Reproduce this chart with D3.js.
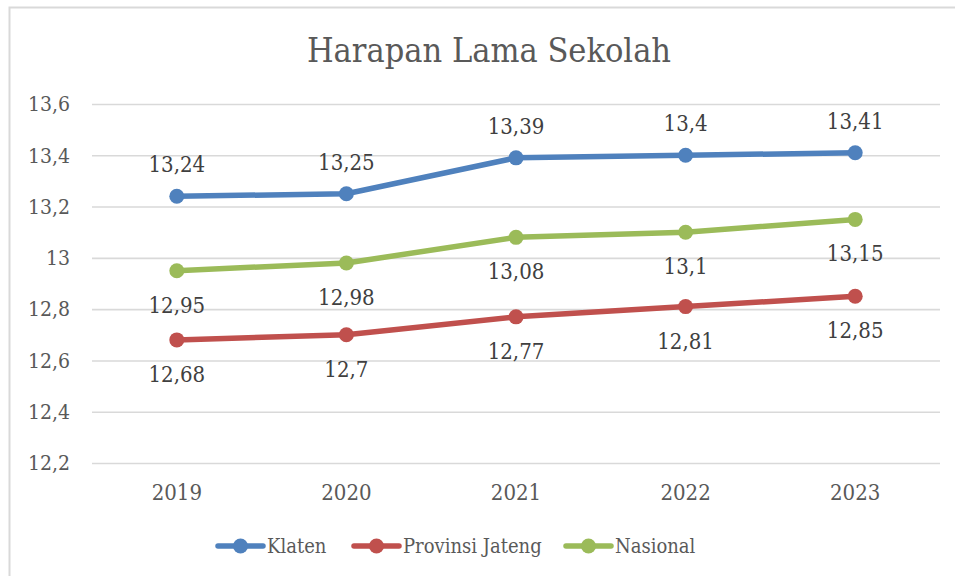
<!DOCTYPE html>
<html>
<head>
<meta charset="utf-8">
<script src="https://cdn.jsdelivr.net/npm/d3@7"></script>
<style>
  html, body { margin: 0; padding: 0; background: #fff; }
  svg { display: block; }
  text { font-family: "DejaVu Serif Condensed", "DejaVu Serif", "Liberation Serif", serif; }
</style>
</head>
<body>
<svg id="chart" width="955" height="576"></svg>
<script>
// Harapan Lama Sekolah (tahun), 2019–2023
const years = ["2019", "2020", "2021", "2022", "2023"];
const klaten = [13.24, 13.25, 13.39, 13.40, 13.41];
const jateng = [12.68, 12.70, 12.77, 12.81, 12.85];
const nasional = [12.95, 12.98, 13.08, 13.10, 13.15];
const yTicks = [12.2, 12.4, 12.6, 12.8, 13.0, 13.2, 13.4, 13.6];
const seriesNames = ["Klaten", "Provinsi Jateng", "Nasional"];

const series = [
  { name: seriesNames[0], values: klaten, color: "#4F81BD", labelPos: "above" },
  { name: seriesNames[1], values: jateng, color: "#C0504D", labelPos: "below" },
  { name: seriesNames[2], values: nasional, color: "#9BBB59", labelPos: "below" }
];

const fmt = v => String(+v.toFixed(2)).replace(".", ",");
const FONT = "\"DejaVu Serif Condensed\", \"DejaVu Serif\", serif";

const svg = d3.select("#chart");
const W = 955, H = 576;

// chart area frame
svg.append("path")
  .attr("d", `M9.5,${H} V7.5 H${W}`)
  .attr("fill", "none")
  .attr("stroke", "#d9d9d9")
  .attr("stroke-width", 2);

const x = d3.scaleBand().domain(years).range([92, 940]);
const y = d3.scaleLinear().domain([12.2, 13.6]).range([463, 104]);

// title
svg.append("text")
  .attr("x", 489).attr("y", 62)
  .attr("text-anchor", "middle")
  .attr("font-size", 34)
  .attr("fill", "#595959")
  .text("Harapan Lama Sekolah");

// gridlines + y tick labels
const yAxis = d3.axisLeft(y).tickValues(yTicks).tickSize(-(940 - 92)).tickFormat(fmt).tickPadding(22);
const gy = svg.append("g").attr("transform", "translate(92,0)").call(yAxis);
gy.select(".domain").remove();
gy.selectAll(".tick line").attr("stroke", "#d9d9d9").attr("stroke-width", 1.6);
gy.selectAll(".tick text")
  .attr("font-size", 21)
  .attr("fill", "#595959")
  .style("font-family", FONT);

// x axis labels
const xAxis = d3.axisBottom(x).tickSize(0).tickPadding(21);
const gx = svg.append("g").attr("transform", "translate(0,463)").call(xAxis);
gx.select(".domain").remove();
gx.selectAll(".tick text")
  .attr("font-size", 22)
  .attr("fill", "#595959")
  .style("font-family", FONT);

const cx = d => x(d) + x.bandwidth() / 2;
const line = d3.line().x((d, i) => cx(years[i])).y(d => y(d));

series.forEach(s => {
  const g = svg.append("g");
  g.append("path")
    .datum(s.values)
    .attr("d", line)
    .attr("fill", "none")
    .attr("stroke", s.color)
    .attr("stroke-width", 5.5)
    .attr("stroke-linejoin", "round")
    .attr("stroke-linecap", "round");
  g.selectAll("circle")
    .data(s.values)
    .join("circle")
    .attr("cx", (d, i) => cx(years[i]))
    .attr("cy", d => y(d))
    .attr("r", 7.5)
    .attr("fill", s.color);
  g.selectAll("text")
    .data(s.values)
    .join("text")
    .attr("x", (d, i) => cx(years[i]))
    .attr("y", d => s.labelPos === "above" ? y(d) - 24 : y(d) + 42)
    .attr("text-anchor", "middle")
    .attr("font-size", 22)
    .attr("fill", "#404040")
    .text(d => fmt(d));
});

// legend
const legendItems = [
  { s: series[0], x: 216 },
  { s: series[1], x: 352 },
  { s: series[2], x: 564 }
];
const ly = 546;
legendItems.forEach(({ s, x: lx }) => {
  const g = svg.append("g");
  g.append("line")
    .attr("x1", lx + 2).attr("x2", lx + 47)
    .attr("y1", ly).attr("y2", ly)
    .attr("stroke", s.color).attr("stroke-width", 5.5)
    .attr("stroke-linecap", "round");
  g.append("circle").attr("cx", lx + 24.5).attr("cy", ly).attr("r", 7.5).attr("fill", s.color);
  g.append("text")
    .attr("x", lx + 51).attr("y", ly + 7)
    .attr("font-size", 20)
    .attr("fill", "#595959")
    .text(s.name);
});
</script>
</body>
</html>
